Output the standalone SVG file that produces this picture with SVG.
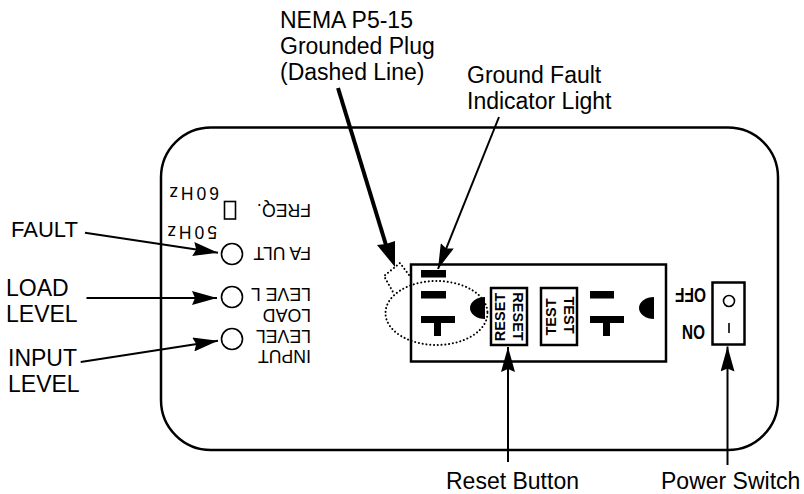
<svg xmlns="http://www.w3.org/2000/svg" width="804" height="494" viewBox="0 0 804 494">
<style>
text{font-family:"Liberation Sans",Arial,sans-serif;fill:#000}
.l{font-size:23px}
.u{font-size:17.700px}
.z{font-size:17.500px;letter-spacing:3px}
.b{font-size:14.500px;font-weight:bold;text-anchor:middle}
.s{fill:none;stroke:#000;stroke-width:2.5}
.t{fill:none;stroke:#000;stroke-width:1.6}
.w{fill:none;stroke:#000;stroke-width:2}
.k{fill:#000}
.d{fill:none;stroke:#000;stroke-width:2;stroke-dasharray:0.1 3.7;stroke-linecap:round}
</style>
<defs>
<marker id="a" markerUnits="userSpaceOnUse" markerWidth="26" markerHeight="14" refX="25" refY="7" orient="auto"><path d="M0 0L25 7L0 14L3 7Z" fill="#000"/></marker>
</defs>
<g id="housing"><rect class="s" x="161" y="127.500" width="617" height="322.500" rx="50" ry="50"/></g>
<g id="outlet">
<rect class="s" x="411" y="264.500" width="255" height="97"/>
<rect class="k" x="421" y="270" width="25" height="7.500"/>
<rect class="k" x="421" y="291" width="25" height="7.500"/>
<path class="k" d="M421 316h34v7h-14v13h-7v-13h-13z"/>
<path class="k" d="M485 297v22a15 11 0 0 1 0-22z"/>
<rect class="k" x="590" y="291" width="24" height="7.500"/>
<path class="k" d="M590 316h34v7h-14v13h-7v-13h-13z"/>
<path class="k" d="M654 297v22a15 11 0 0 1 0-22z"/>
</g>
<g id="reset-button">
<rect class="s" x="491" y="288" width="36" height="57"/>
<text class="b" transform="translate(505 317) rotate(-90)">RESET</text>
<text class="b" transform="translate(513 316.500) rotate(90)">RESET</text>
</g>
<g id="test-button">
<rect class="s" x="541" y="288" width="36" height="57"/>
<text class="b" transform="translate(556 317) rotate(-90)">TEST</text>
<text class="b" transform="translate(564 315) rotate(90)">TEST</text>
</g>
<g id="plug-outline">
<path class="d" d="M409 275L400 263L384 276L393 292"/>
<ellipse class="d" cx="436.500" cy="313" rx="51" ry="32"/>
</g>
<g id="power-switch">
<rect class="s" x="712.500" y="282.500" width="32" height="62"/>
<circle class="t" cx="729" cy="301" r="5.500"/>
<path class="t" d="M729 323v10"/>
<text transform="translate(706 287.500) rotate(180)" font-size="20" font-weight="bold" textLength="31" lengthAdjust="spacingAndGlyphs">OFF</text>
<text transform="translate(705 325) rotate(180)" font-size="20" font-weight="bold" textLength="23" lengthAdjust="spacingAndGlyphs">ON</text>
</g>
<g id="indicators">
<circle class="t" cx="232" cy="254" r="10.500"/>
<circle class="t" cx="232" cy="297" r="10.500"/>
<circle class="t" cx="232" cy="339" r="10.500"/>
<rect class="t" x="224.500" y="201.500" width="11" height="17.500"/>
<text class="u" transform="translate(311 204) rotate(180)">FREQ.</text>
<text class="z" transform="translate(219 187) rotate(180)">60Hz</text>
<text class="z" transform="translate(217 226) rotate(180)">50Hz</text>
<text class="u" transform="translate(311 247) rotate(180)">FA ULT</text>
<text class="u" transform="translate(311 288) rotate(180)">LEVE L</text>
<text class="u" transform="translate(311 309) rotate(180)">LOAD</text>
<text class="u" transform="translate(311 330) rotate(180)">LEVEL</text>
<text class="u" transform="translate(311 350) rotate(180)">INPUT</text>
</g>
<g id="connectors">
<path class="w" d="M85 232.700L218 252.700" marker-end="url(#a)"/>
<path class="w" d="M86.500 298L217 298" marker-end="url(#a)"/>
<path class="w" d="M80.700 362L218 340.700" marker-end="url(#a)"/>
<path d="M338 88L386 245" fill="none" stroke="#000" stroke-width="4"/>
<path class="k" d="M395 267L377 245L386 244L395 241Z"/>
<path class="w" d="M499 117L438 269" marker-end="url(#a)"/>
<path class="w" d="M508 462L508 347" marker-end="url(#a)"/>
<path class="w" d="M727.500 465L727.500 346.500" marker-end="url(#a)"/>
</g>
<g id="labels">
<text class="l" x="280" y="28">NEMA P5-15</text>
<text class="l" x="280" y="54">Grounded Plug</text>
<text class="l" x="280" y="80">(Dashed Line)</text>
<text class="l" x="467" y="83">Ground Fault</text>
<text class="l" x="467" y="109">Indicator Light</text>
<text class="l" x="11" y="237" style="font-size:22px">FAULT</text>
<text class="l" x="6" y="296">LOAD</text>
<text class="l" x="6" y="322">LEVEL</text>
<text class="l" x="8" y="366">INPUT</text>
<text class="l" x="8" y="392">LEVEL</text>
<text class="l" x="446" y="489">Reset Button</text>
<text class="l" x="661" y="489">Power Switch</text>
</g>
</svg>
